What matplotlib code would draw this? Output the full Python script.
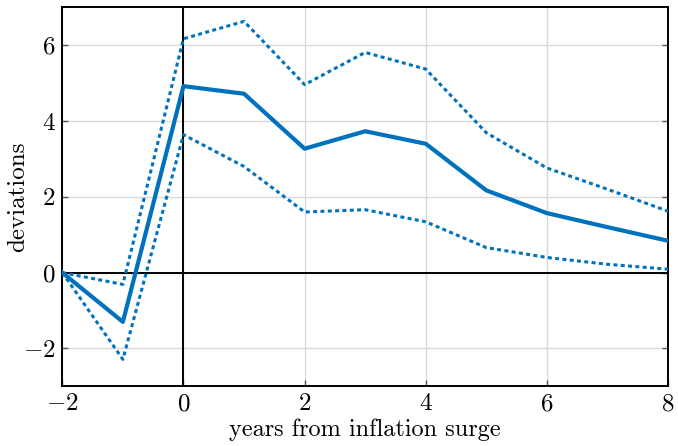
import matplotlib
matplotlib.use("Agg")
import matplotlib.pyplot as plt

plt.rcParams['font.family'] = 'cmr10'
plt.rcParams['mathtext.fontset'] = 'cm'
plt.rcParams['axes.formatter.use_mathtext'] = True

years = [-2, -1, 0, 1, 2, 3, 4, 5, 6, 7, 8]
estimate = [0, -1.30, 4.92, 4.72, 3.27, 3.73, 3.40, 2.17, 1.57, 1.20, 0.84]
upper = [0, -0.31, 6.17, 6.63, 4.96, 5.81, 5.37, 3.69, 2.76, 2.20, 1.62]
lower = [0, -2.29, 3.64, 2.80, 1.60, 1.66, 1.34, 0.66, 0.40, 0.22, 0.09]

xticks = [-2, 0, 2, 4, 6, 8]
yticks = [-2, 0, 2, 4, 6]

color = '#0072BD'

fig = plt.figure(figsize=(6.78, 4.46), dpi=100)
ax = fig.add_axes([0.0919, 0.1338, 0.8934, 0.8498])

ax.grid(True, color='#d9d9d9', lw=1.0)
ax.set_axisbelow(True)
ax.axhline(0, color='black', lw=1.4, zorder=2)
ax.axvline(0, color='black', lw=1.4, zorder=2)

ax.plot(years, estimate, color=color, lw=3.0, zorder=3)
ax.plot(years, upper, color=color, lw=2.2, ls=(0, (1.3, 1.1)), zorder=3)
ax.plot(years, lower, color=color, lw=2.2, ls=(0, (1.3, 1.1)), zorder=3)

ax.set_xlim(-2, 8)
ax.set_ylim(-3, 7)
ax.set_xticks(xticks)
ax.set_yticks(yticks)
ax.tick_params(direction='in', length=4, width=1, color='#555555', labelsize=18,
               top=False, right=True, pad=5)
for s in ax.spines.values():
    s.set_linewidth(1.4)
    s.set_color('black')

ax.set_xlabel('years from inflation surge', fontsize=17.5, labelpad=2)
ax.set_ylabel('deviations', fontsize=18)
ax.yaxis.set_label_coords(-0.055, 0.5)

fig.savefig('out.png', dpi=100)
